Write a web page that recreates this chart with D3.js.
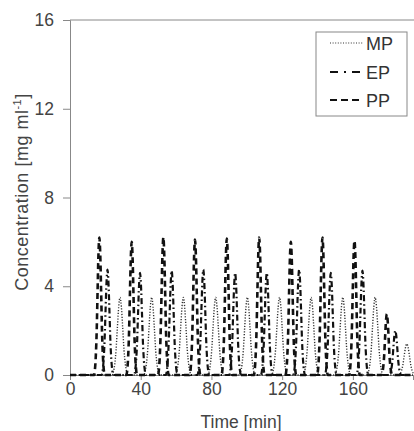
<!DOCTYPE html>
<html>
<head>
<meta charset="utf-8">
<script src="https://cdn.jsdelivr.net/npm/d3@7"></script>
<style>
  body { margin: 0; background: #fff; }
  svg { display: block; font-family: "Liberation Sans", Arial, sans-serif; }
</style>
</head>
<body>
<svg id="chart" width="414" height="431"></svg>
<script>
// peak apex times [min] and heights [mg/ml]
var ppTimes   = [16.6, 34.9, 52.8, 70.7, 88.7, 107.0, 124.9, 142.8, 160.9, 179.2];
var ppHeights = [6.2, 6.0, 6.2, 6.1, 6.15, 6.2, 6.0, 6.2, 6.05, 2.75];
var epTimes   = [21.2, 39.6, 57.5, 75.4, 93.4, 111.3, 129.6, 147.5, 165.4, 184.0];
var epHeights = [4.75, 4.6, 4.7, 4.75, 4.6, 4.6, 4.75, 4.6, 4.7, 2.0];
var mpTimes   = [28.3, 46.2, 64.1, 82.4, 100.3, 118.5, 136.4, 154.3, 172.6, 190.5];
var mpHeights = [3.5, 3.5, 3.5, 3.5, 3.5, 3.5, 3.5, 3.5, 3.5, 1.4];
// relative peak profile (offset in peak-width units, fraction of apex)
var profileOffsets = [-3, -2.5, -2, -1.5, -1, -0.5, 0, 0.5, 1, 1.5, 2, 2.5, 3];
var profileShape   = [0, 0.04, 0.14, 0.32, 0.61, 0.88, 1, 0.88, 0.61, 0.32, 0.14, 0.04, 0];
var peakWidths = {MP: 1.5, EP: 1.1, PP: 1.0};
var xTicks = [0, 40, 80, 120, 160];
var yTicks = [0, 4, 8, 12, 16];
var tEnd = 194;

var svg = d3.select("#chart");

var x = d3.scaleLinear().domain([0, tEnd]).range([70, 413]);
var y = d3.scaleLinear().domain([0, 16]).range([375, 20]);

function buildSeries(times, heights, w) {
    var pts = [[0, 0]];
    times.forEach(function(t, i) {
        profileOffsets.forEach(function(o, j) {
            pts.push([t + o * w, heights[i] * profileShape[j]]);
        });
    });
    pts.push([tEnd, 0]);
    return pts;
}

var series = [
    {name: "MP", pts: buildSeries(mpTimes, mpHeights, peakWidths.MP), dash: "1.2,1.6", width: 1.4, color: "#333"},
    {name: "EP", pts: buildSeries(epTimes, epHeights, peakWidths.EP), dash: "6,3,1.5,3", width: 2.2, color: "#111"},
    {name: "PP", pts: buildSeries(ppTimes, ppHeights, peakWidths.PP), dash: "6,4", width: 2.6, color: "#111"}
];

var line = d3.line()
    .x(function(d) { return x(d[0]); })
    .y(function(d) { return y(d[1]); })
    .curve(d3.curveMonotoneX);

// top frame line
svg.append("line")
    .attr("x1", 70).attr("x2", 414)
    .attr("y1", y(16)).attr("y2", y(16))
    .attr("stroke", "#888").attr("stroke-width", 1);

var yAxis = svg.append("g")
    .attr("transform", "translate(70,0)")
    .call(d3.axisLeft(y).tickValues(yTicks).tickSize(7).tickPadding(9));

var xAxis = svg.append("g")
    .attr("transform", "translate(0,375)")
    .call(d3.axisBottom(x).tickValues(xTicks).tickSize(5).tickPadding(3));

[xAxis, yAxis].forEach(function(a) {
    a.select(".domain").attr("stroke", "#888");
    a.selectAll(".tick line").attr("stroke", "#888");
    a.selectAll(".tick text")
        .attr("fill", "#444")
        .style("font-size", "17.5px")
        .style("font-family", "'Liberation Sans', Arial, sans-serif");
});

svg.append("g").selectAll("path")
    .data(series)
    .enter().append("path")
      .attr("d", function(d) { return line(d.pts); })
      .attr("fill", "none")
      .attr("stroke", function(d) { return d.color; })
      .attr("stroke-width", function(d) { return d.width; })
      .attr("stroke-dasharray", function(d) { return d.dash; });

// axis titles
svg.append("text")
    .attr("x", 241).attr("y", 428)
    .attr("text-anchor", "middle")
    .attr("fill", "#444")
    .style("font-size", "17.5px")
    .text("Time [min]");

var yl = svg.append("text")
    .attr("transform", "translate(28,192) rotate(-90)")
    .attr("text-anchor", "middle")
    .attr("fill", "#444")
    .style("font-size", "18px")
    .style("letter-spacing", "0.5px");
yl.append("tspan").text("Concentration [mg ml");
yl.append("tspan").attr("dy", -7).style("font-size", "11px").text("-1");
yl.append("tspan").attr("dy", 7).text("]");

// legend
var legend = svg.append("g");
legend.append("rect")
    .attr("x", 316).attr("y", 32)
    .attr("width", 91).attr("height", 84)
    .attr("fill", "#fff")
    .attr("stroke", "#888").attr("stroke-width", 1);

var legendY = [43, 72, 100];
var item = legend.selectAll("g.item")
    .data(series)
    .enter().append("g")
      .attr("class", "item")
      .attr("transform", function(d, i) { return "translate(0," + legendY[i] + ")"; });

item.append("line")
    .attr("x1", 330).attr("x2", 363)
    .attr("stroke", function(d) { return d.color; })
    .attr("stroke-width", function(d) { return d.name == "MP" ? 1.2 : 2; })
    .attr("stroke-dasharray", function(d) {
        if (d.name == "MP") return "1,1.6";
        if (d.name == "EP") return "8,6,2,6";
        return "7,4";
    });

item.append("text")
    .attr("x", 366).attr("y", 6.5)
    .attr("fill", "#333")
    .style("font-size", "18px")
    .text(function(d) { return d.name; });
</script>
</body>
</html>
